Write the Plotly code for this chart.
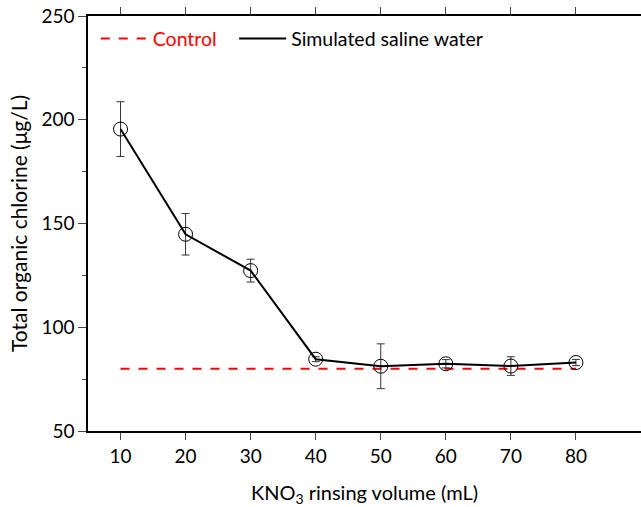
import plotly.graph_objects as go

volume = [10, 20, 30, 40, 50, 60, 70, 80]
toc = [195.5, 144.8, 127.3, 84.6, 81.2, 82.4, 81.3, 83.0]
toc_err = [13.2, 10.0, 5.5, 1.2, 10.8, 2.0, 4.5, 1.5]
control_x = [10, 80]
control_y = [80, 80]

FF = "Lato, 'Open Sans', sans-serif"

fig = go.Figure()
fig.add_trace(go.Scatter(
    x=control_x, y=control_y, mode="lines",
    name="<span style='color:#ff0000'>Control</span>&nbsp;&nbsp;&#8201;",
    line=dict(color="#ff0000", width=2, dash="dash"),
))
fig.add_trace(go.Scatter(
    x=volume, y=toc, mode="lines+markers",
    name="Simulated saline water", showlegend=False,
    line=dict(color="black", width=2),
    marker=dict(symbol="circle-open", size=14, color="black", line=dict(width=1)),
    error_y=dict(type="data", array=toc_err, visible=True, color="#333333", thickness=1, width=4),
))
# legend entry (line only, as in the reference)
fig.add_trace(go.Scatter(
    x=[None], y=[None], mode="lines", name="Simulated saline water",
    line=dict(color="black", width=2),
))

fig.update_layout(
    width=641, height=507,
    margin=dict(l=88, r=0, t=16, b=76, autoexpand=False),
    paper_bgcolor="white", plot_bgcolor="white",
    font=dict(family=FF, size=18, color="black"),
    showlegend=True,
    legend=dict(orientation="h", x=0.014, y=0.945, xanchor="left", yanchor="middle",
                bgcolor="rgba(0,0,0,0)", font=dict(family=FF, size=19.5, color="black"),
                itemwidth=47),
    xaxis=dict(
        range=[5, 90], tickvals=volume, ticks="outside", ticklen=7, tickwidth=1,
        tickfont=dict(family=FF, size=19, color="black"),
        showline=True, linecolor="black", linewidth=1.5, mirror="ticks",
        showgrid=False, zeroline=False, automargin=True,
        title=dict(text="KNO<sub>3</sub> rinsing volume (mL)", standoff=20,
                   font=dict(family=FF, size=20, color="black")),
    ),
    yaxis=dict(
        range=[50, 250], tickvals=[50, 100, 150, 200, 250], ticks="outside", ticklen=8, tickwidth=1,
        tickfont=dict(family=FF, size=19, color="black"),
        minor=dict(tickvals=[75, 125, 175, 225], ticks="outside", ticklen=4, tickwidth=1),
        showline=True, linecolor="black", linewidth=1.5, mirror="ticks",
        showgrid=False, zeroline=False, automargin=True,
        title=dict(text="Total organic chlorine (μg/L)", standoff=8,
                   font=dict(family=FF, size=21, color="black")),
    ),
)

fig.write_html("out.html", config={"displayModeBar": False},
               post_script="document.body.style.margin='0';")
